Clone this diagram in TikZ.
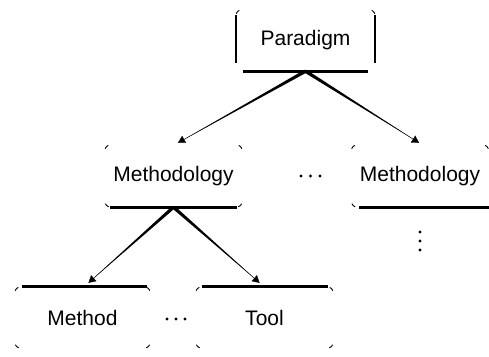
\documentclass[tikz,border=0pt]{standalone}
\usepackage{fontspec}
\setmainfont{Liberation Sans}
\usetikzlibrary{calc,arrows.meta}
\newcommand\tkTL[1]{\draw[tick] ($(#1.north west)+(6,-6)+(160:6)$) arc[start angle=160,end angle=115,radius=6];}
\newcommand\tkTR[1]{\draw[tick] ($(#1.north east)+(-6,-6)+(65:6)$) arc[start angle=65,end angle=20,radius=6];}
\newcommand\tkBL[1]{\draw[tick] ($(#1.south west)+(6,6)+(205:6)$) arc[start angle=205,end angle=250,radius=6];}
\newcommand\tkBR[1]{\draw[tick] ($(#1.south east)+(-6,6)+(290:6)$) arc[start angle=290,end angle=335,radius=6];}
\newcommand\taper[2]{%
  \fill ($(#1)!1.7pt!90:(#2)$) -- ($(#1)!1.7pt!-90:(#2)$) -- (#2) -- cycle;
  \draw[conn] (#1) -- (#2);}
\begin{document}
\begin{tikzpicture}[x=1pt,y=1pt,
  box/.style={rectangle, minimum width=137pt, minimum height=62pt, inner sep=0pt,
              font=\fontsize{21}{24}\selectfont},
  thickedge/.style={line width=2.8pt},
  sideedge/.style={line width=2pt},
  tick/.style={line width=0.9pt},
  conn/.style={line width=0.3pt, -{Triangle[length=7pt,width=8pt]}},
  dot/.style={circle, fill, inner sep=0pt, minimum size=3.2pt},
]
\useasboundingbox (0,0) rectangle (489,-356);
% nodes
\node[box, minimum width=139pt, minimum height=61pt] (P) at (305.5,-40.5) {Paradigm};
\node[box] (M1) at (173.5,-176) {Methodology};
\node[box] (M2) at (420,-176) {Methodology};
\node[box, minimum width=135pt, minimum height=61pt] (Me) at (82.5,-317.5) {Method};
\node[box, minimum width=137pt, minimum height=61pt] (T) at (264.5,-317.5) {Tool};
% Paradigm edges
\draw[sideedge] ($(P.north west)+(0,-5)$) -- ($(P.south west)+(0,8)$);
\draw[sideedge] ($(P.north east)+(0,-5)$) -- ($(P.south east)+(0,8)$);
\draw[thickedge] ($(P.south west)+(7,0)$) -- ($(P.south east)+(-7,0)$);
\tkTL{P}\tkTR{P}
% Methodology edges
\draw[thickedge] ($(M1.south west)+(5,0)$) -- ($(M1.south east)+(-5,0)$);
\tkTL{M1}\tkTR{M1}\tkBL{M1}\tkBR{M1}
\draw[thickedge] ($(M2.south west)+(8,0)$) -- (M2.south east);
\tkTL{M2}\tkTR{M2}\tkBL{M2}
% Method / Tool edges
\draw[thickedge] ($(Me.north west)+(7,0)$) -- ($(Me.north east)+(-3,0)$);
\tkTL{Me}\tkTR{Me}\tkBL{Me}\tkBR{Me}
\draw[thickedge] ($(T.north west)+(6,0)$) -- ($(T.north east)+(-5,0)$);
\tkTL{T}\tkTR{T}\tkBL{T}\tkBR{T}
% connectors
\coordinate (a1) at ([xshift=4.5pt,yshift=2pt]M1.north);
\coordinate (a2) at ([xshift=-1pt,yshift=2pt]M2.north);
\coordinate (a3) at ([xshift=6pt,yshift=4pt]Me.north);
\coordinate (a4) at ([xshift=-5pt,yshift=4pt]T.north);
\taper{P.south}{a1}
\taper{P.south}{a2}
\taper{M1.south}{a3}
\taper{M1.south}{a4}
% ellipses
\node[dot] (h1) at (301,-176) {};
\node[dot] (h2) at (310.5,-176) {};
\node[dot] (h3) at (320,-176) {};
\node[dot] (v1) at (420,-232) {};
\node[dot] (v2) at (420,-241) {};
\node[dot] (v3) at (420,-250) {};
\node[dot] (m1) at (167,-319) {};
\node[dot] (m2) at (176,-319) {};
\node[dot] (m3) at (185,-319) {};
\end{tikzpicture}
\end{document}
